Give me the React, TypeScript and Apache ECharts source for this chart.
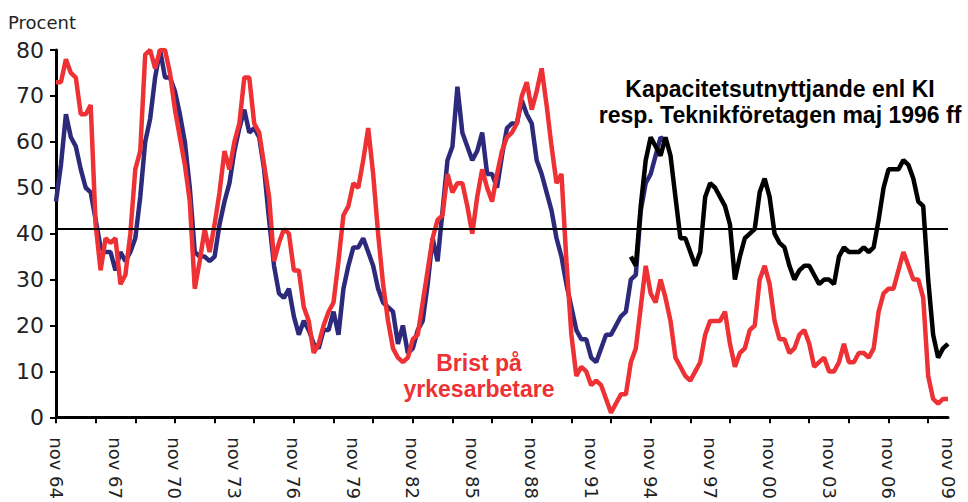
import React, { useEffect, useRef } from 'react';
import * as echarts from 'echarts';

// Category axis: quarterly observations, nov 1964 .. nov 2009
const MONTHS = ['nov', 'feb', 'maj', 'aug'];
const START_YEAR = 1964;
const N_QUARTERS = 181;
const categories: string[] = Array.from({ length: N_QUARTERS }, (_, i) => {
  const m = MONTHS[i % 4];
  const y = START_YEAR + Math.floor(i / 4) + (i % 4 === 0 ? 0 : 1);
  return `${m} ${String(y % 100).padStart(2, '0')}`;
});

// Y axis
const Y_MIN = 0;
const Y_MAX = 80;
const Y_STEP = 10;
const REF_LEVEL = 41;

// Brist på yrkesarbetare (red)
const brist: number[] = [
  73, 73, 78, 75, 74, 66, 66, 68, 42, 32,
  39, 38, 39, 29, 31, 40, 54, 58, 79, 80,
  76, 80, 80, 75, 67, 61, 55, 47, 28, 34,
  41, 36, 42, 49, 58, 54, 60, 64, 74, 74,
  64, 62, 55, 48, 34, 38, 41, 40, 32, 32,
  24, 21, 14, 16, 20, 23, 25, 34, 44, 46,
  51, 50, 56, 63, 53, 40, 29, 21, 15, 13,
  12, 13, 17, 18, 25, 32, 39, 43, 44, 53,
  49, 51, 51, 46, 40, 48, 54, 50, 47, 53,
  58, 61, 62, 64, 70, 73, 67, 71, 76, 68,
  59, 51, 53, 34, 18, 9, 11, 10, 7, 8,
  7, 4, 1, 3, 5, 5, 12, 15, 24, 33,
  27, 25, 30, 26, 21, 13, 11, 9, 8, 10,
  12, 18, 21, 21, 21, 23, 16, 11, 14, 15,
  19, 20, 30, 33, 29, 21, 17, 17, 14, 15,
  18, 19, 16, 11, 12, 13, 10, 10, 12, 16,
  12, 12, 14, 14, 13, 15, 23, 27, 28, 28,
  32, 36, 33, 30, 30, 26, 9, 4, 3, 4,
  4,
];

// Kapacitetsutnyttjande enl KI, older series (navy), nov 64 .. aug 95
const kapKI: number[] = [
  47, 55, 66, 61, 59, 54, 50, 49, 43, 37,
  36, 36, 32, 36, 34, 36, 39, 48, 60, 65,
  74, 80, 74, 74, 71, 66, 60, 50, 36, 35,
  35, 34, 35, 42, 47, 51, 58, 63, 67, 62,
  63, 61, 54, 43, 33, 27, 26, 28, 22, 18,
  21, 19, 16, 15, 19, 19, 23, 18, 28, 33,
  37, 37, 39, 36, 33, 28, 25, 24, 23, 16,
  20, 14, 15, 19, 21, 29, 39, 34, 45, 56,
  59, 72, 62, 59, 56, 58, 62, 53, 53, 50,
  57, 63, 64, 64, 69, 66, 64, 56, 53, 49,
  45, 39, 35, 29, 24, 19, 17, 17, 13, 12,
  15, 18, 18, 20, 22, 23, 30, 31, 45, 51,
  53, 57, 61, 60,
];

// Kapacitetsutnyttjande resp. Teknikföretagen (black), nov 93 .. nov 09
const KAP_TF_START = 116;
const kapTF: number[] = [
  35, 33, 46, 56, 61, 59, 57, 61, 57, 48,
  39, 39, 36, 33, 36, 48, 51, 50, 48, 46,
  42, 30, 35, 39, 40, 41, 49, 52, 48, 40,
  38, 37, 33, 30, 32, 33, 33, 31, 29, 30,
  30, 29, 35, 37, 36, 36, 36, 37, 36, 37,
  43, 50, 54, 54, 54, 56, 55, 52, 47, 46,
  30, 18, 13, 15, 16,
];

const pad = (arr: (number | null)[], before: number) => {
  const out: (number | null)[] = Array(before).fill(null).concat(arr);
  while (out.length < N_QUARTERS) out.push(null);
  return out;
};

const RED = '#EE3134';
const NAVY = '#2D2A7C';
const BLACK = '#000000';
const AXIS_FONT = 'DejaVu Sans';
const ANNOT_FONT = 'Liberation Sans, Arial, sans-serif';
const LINE_W = 4.5;

const annot = (text: string, x: number, y: number, fill: string) => ({
  type: 'text',
  x,
  y,
  style: {
    text,
    fontSize: 23,
    fontWeight: 'bold',
    fontFamily: ANNOT_FONT,
    fill,
    textAlign: 'center',
    align: 'center',
    textVerticalAlign: 'middle',
    verticalAlign: 'middle',
  },
});

export default function App() {
  const ref = useRef<HTMLDivElement>(null);
  useEffect(() => {
    if (!ref.current) return;
    const chart = echarts.init(ref.current, undefined, { renderer: 'svg' });
    chart.setOption({
      animation: false,
      backgroundColor: '#ffffff',
      grid: { left: 56, top: 50, right: 20, bottom: 82, containLabel: false },
      xAxis: {
        type: 'category',
        data: categories,
        boundaryGap: false,
        axisLine: { show: true, lineStyle: { color: '#000', width: 3 } },
        axisTick: { show: true, interval: 7, length: 6, lineStyle: { color: '#000', width: 2 } },
        axisLabel: {
          interval: 11,
          rotate: -90,
          margin: 20,
          fontSize: 18,
          fontFamily: AXIS_FONT,
          color: '#222',
        },
        splitLine: { show: false },
      },
      yAxis: {
        type: 'value',
        min: Y_MIN,
        max: Y_MAX,
        interval: Y_STEP,
        axisLine: { show: true, lineStyle: { color: '#000', width: 3 } },
        axisTick: { show: true, length: 6, lineStyle: { color: '#000', width: 2 } },
        axisLabel: { fontSize: 22, fontFamily: AXIS_FONT, color: '#222', margin: 12 },
        splitLine: { show: false },
      },
      series: [
        {
          name: 'Kapacitetsutnyttjande enl KI',
          type: 'line',
          data: pad(kapKI, 0),
          showSymbol: false,
          connectNulls: false,
          lineStyle: { color: NAVY, width: LINE_W },
          itemStyle: { color: NAVY },
          z: 2,
          markLine: {
            silent: true,
            symbol: 'none',
            label: { show: false },
            lineStyle: { color: '#000', width: 2, type: 'solid' },
            data: [{ yAxis: REF_LEVEL }],
          },
        },
        {
          name: 'Brist på yrkesarbetare',
          type: 'line',
          data: pad(brist, 0),
          showSymbol: false,
          lineStyle: { color: RED, width: LINE_W },
          itemStyle: { color: RED },
          z: 3,
        },
        {
          name: 'Teknikföretagen',
          type: 'line',
          data: pad(kapTF, KAP_TF_START),
          showSymbol: false,
          connectNulls: false,
          lineStyle: { color: BLACK, width: LINE_W },
          itemStyle: { color: BLACK },
          z: 4,
        },
      ],
      graphic: [
        {
          type: 'text',
          x: 8,
          y: 22,
          style: {
            text: 'Procent',
            fontSize: 18,
            fontFamily: AXIS_FONT,
            fill: '#222',
            textVerticalAlign: 'middle',
            verticalAlign: 'middle',
          },
        },
        annot('Kapacitetsutnyttjande enl KI', 780, 89, '#000'),
        annot('resp. Teknikföretagen maj 1996 ff', 780, 115, '#000'),
        annot('Brist på', 479, 363, RED),
        annot('yrkesarbetare', 479, 389, RED),
      ],
    });
    return () => chart.dispose();
  }, []);
  return (
    <div
      ref={ref}
      style={{ position: 'absolute', left: 0, top: 0, width: 968, height: 502, background: '#fff' }}
    />
  );
}
